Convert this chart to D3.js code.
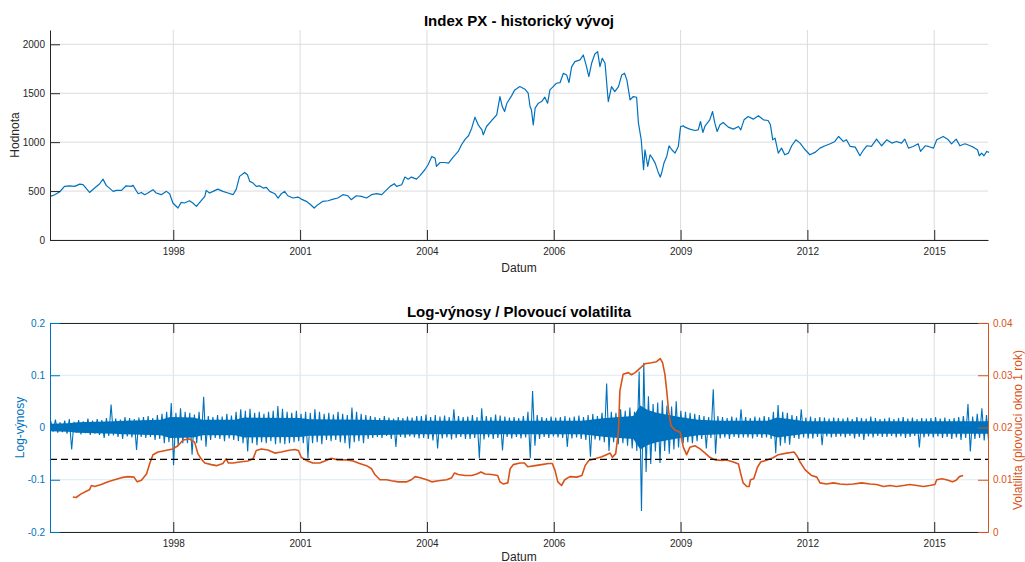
<!DOCTYPE html>
<html>
<head>
<meta charset="utf-8">
<script src="https://cdn.jsdelivr.net/npm/d3@7/dist/d3.min.js"></script>
<style>
  body { margin: 0; background: #fff; }
  svg text { font-family: "Liberation Sans", Arial, Helvetica, sans-serif; }
</style>
</head>
<body>
<script>

// ---- data ----

// x axis: MATLAB datenum ticks every 1000 days, labelled with the year
var xDomain = ["1996-01-04", "2016-04-04"];
var tickDates = ["1998-09-02", "2001-05-29", "2004-02-23", "2006-11-19", "2009-08-15", "2012-05-11", "2015-02-05"];

// Index PX (decimal year, value)
var priceYears = [
  1996.02, 1996.11, 1996.22, 1996.32, 1996.43, 1996.54, 1996.65, 1996.72, 1996.86, 1996.97,
  1997.08, 1997.15, 1997.22, 1997.37, 1997.44, 1997.55, 1997.65, 1997.76, 1997.80, 1997.91, 1997.98,
  1998.05, 1998.12, 1998.23, 1998.30, 1998.41, 1998.52, 1998.59, 1998.66, 1998.77, 1998.84, 1998.91,
  1999.02, 1999.09, 1999.17, 1999.24, 1999.35, 1999.38, 1999.45, 1999.53, 1999.63, 1999.74, 1999.85, 1999.96,
  2000.03, 2000.10, 2000.21, 2000.27, 2000.32, 2000.39, 2000.46, 2000.53, 2000.61, 2000.68, 2000.75, 2000.86, 2000.93,
  2001.00, 2001.07, 2001.14, 2001.25, 2001.36, 2001.43, 2001.54, 2001.61, 2001.71, 2001.79, 2001.90,
  2002.01, 2002.12, 2002.22, 2002.33, 2002.44, 2002.51, 2002.62, 2002.73, 2002.84, 2002.95,
  2003.06, 2003.17, 2003.24, 2003.35, 2003.44, 2003.49, 2003.60, 2003.67, 2003.74, 2003.81, 2003.92, 2003.99,
  2004.10, 2004.17, 2004.25, 2004.32, 2004.35, 2004.43, 2004.53, 2004.61, 2004.71, 2004.82, 2004.89, 2004.97,
  2005.04, 2005.11, 2005.18, 2005.25, 2005.33, 2005.36, 2005.43, 2005.54, 2005.65, 2005.72, 2005.77, 2005.82, 2005.87, 2005.97,
  2006.04, 2006.15, 2006.26, 2006.33, 2006.37, 2006.40, 2006.44, 2006.48, 2006.55, 2006.62, 2006.69, 2006.75, 2006.80, 2006.87, 2006.94,
  2007.02, 2007.09, 2007.16, 2007.21, 2007.27, 2007.34, 2007.45, 2007.52, 2007.59, 2007.64, 2007.70, 2007.77, 2007.83, 2007.88, 2007.93, 2007.99,
  2008.06, 2008.13, 2008.20, 2008.28, 2008.35, 2008.41, 2008.46, 2008.53, 2008.60, 2008.67, 2008.71, 2008.77, 2008.82, 2008.85, 2008.91, 2008.96,
  2009.01, 2009.07, 2009.13, 2009.18, 2009.21, 2009.26, 2009.32, 2009.37, 2009.43, 2009.50, 2009.57, 2009.62, 2009.68, 2009.71, 2009.82, 2009.93,
  2010.00, 2010.05, 2010.10, 2010.15, 2010.25, 2010.31, 2010.36, 2010.41, 2010.47, 2010.54, 2010.65, 2010.76, 2010.87, 2010.92, 2010.99,
  2011.08, 2011.19, 2011.30, 2011.41, 2011.51, 2011.56, 2011.61, 2011.66, 2011.73, 2011.80, 2011.87, 2011.95,
  2012.02, 2012.11, 2012.20, 2012.31, 2012.41, 2012.52, 2012.63, 2012.74, 2012.85, 2012.95,
  2013.03, 2013.13, 2013.20, 2013.28, 2013.39, 2013.49, 2013.57, 2013.64, 2013.74, 2013.85, 2013.96,
  2014.07, 2014.18, 2014.28, 2014.39, 2014.46, 2014.54, 2014.64, 2014.75, 2014.80, 2014.90, 2014.97,
  2015.08, 2015.15, 2015.29, 2015.40, 2015.47, 2015.57, 2015.65, 2015.76, 2015.87, 2015.94,
  2016.03, 2016.07, 2016.12, 2016.17, 2016.23, 2016.28
];
var priceValues = [
  446, 463, 493, 548, 554, 548, 571, 565, 486, 531,
  575, 622, 558, 497, 507, 507, 554, 548, 558, 473, 486,
  463, 480, 514, 480, 463, 497, 473, 378, 327, 384, 378,
  401, 378, 344, 384, 446, 507, 480, 497, 520, 497, 480, 463,
  520, 650, 690, 667, 599, 582, 548, 554, 531, 538, 497, 473, 429,
  473, 497, 452, 429, 439, 418, 395, 371, 327, 361, 395,
  401, 418, 429, 463, 452, 412, 452, 446, 429, 463,
  473, 463, 497, 548, 575, 548, 565, 643, 622, 643, 622, 656,
  718, 769, 854, 837, 752, 792, 792, 786, 847, 905, 973, 1031,
  1065, 1143, 1255, 1177, 1126, 1075, 1160, 1221, 1279, 1466, 1364, 1313, 1398, 1473,
  1534, 1568, 1541, 1500, 1364, 1330, 1177, 1347, 1398, 1415, 1459, 1398, 1534, 1568, 1602,
  1609, 1704, 1687, 1609, 1772, 1823, 1840, 1891, 1772, 1670, 1806, 1901, 1925, 1772, 1857, 1806,
  1415, 1568, 1517, 1568, 1687, 1704, 1636, 1432, 1466, 1459, 1194, 1024, 718, 922, 752, 871,
  837, 786, 701, 643, 684, 786, 854, 963, 922, 888, 956, 1160, 1167, 1153, 1133, 1119,
  1126, 1211, 1099, 1167, 1228, 1313, 1194, 1109, 1177, 1201, 1153, 1133, 1160, 1126, 1228,
  1262, 1235, 1269, 1228, 1221, 1177, 1024, 1041, 888, 939, 871, 888,
  963, 1024, 990, 922, 871, 895, 939, 963, 983, 1007,
  1058, 1007, 1024, 956, 949, 861, 922, 963, 956, 1031, 963,
  1024, 990, 1007, 990, 1031, 939, 956, 983, 905, 963, 956,
  939, 1024, 1058, 1024, 983, 1031, 963, 983, 963, 949,
  922, 861, 888, 861, 905, 895
];

// log returns: highest and lowest value inside each 0.1-year bin
var retStart = 1996.0;
var retStep = 0.1;
var retHi = [
  0.012, 0.015, 0.010, 0.013, 0.016, 0.011, 0.014, 0.012, 0.017, 0.013,
  0.016, 0.014, 0.018, 0.044, 0.017, 0.015, 0.020, 0.018, 0.016, 0.019,
  0.020, 0.022, 0.018, 0.024, 0.026, 0.030, 0.047, 0.028, 0.037, 0.030,
  0.028, 0.025, 0.030, 0.059, 0.022, 0.020, 0.024, 0.021, 0.026, 0.023,
  0.030, 0.035, 0.032, 0.036, 0.028, 0.030, 0.026, 0.030, 0.032, 0.041,
  0.036, 0.030, 0.028, 0.032, 0.026, 0.030, 0.028, 0.035, 0.030, 0.026,
  0.028, 0.025, 0.030, 0.026, 0.024, 0.038, 0.030, 0.026, 0.024, 0.022,
  0.020, 0.018, 0.022, 0.019, 0.017, 0.020, 0.018, 0.021, 0.019, 0.022,
  0.022, 0.025, 0.020, 0.024, 0.021, 0.023, 0.020, 0.035, 0.022, 0.020,
  0.021, 0.024, 0.020, 0.037, 0.022, 0.020, 0.025, 0.023, 0.021, 0.019,
  0.020, 0.018, 0.022, 0.030, 0.070, 0.024, 0.020, 0.018, 0.021, 0.019,
  0.020, 0.022, 0.019, 0.021, 0.023, 0.020, 0.024, 0.026, 0.022, 0.028,
  0.084, 0.030, 0.028, 0.035, 0.032, 0.038, 0.030, 0.107, 0.124, 0.060,
  0.045, 0.048, 0.052, 0.042, 0.040, 0.050, 0.032, 0.030, 0.028, 0.026,
  0.024, 0.022, 0.020, 0.073, 0.022, 0.020, 0.018, 0.021, 0.019, 0.035,
  0.020, 0.018, 0.021, 0.019, 0.022, 0.020, 0.030, 0.043, 0.030, 0.028,
  0.024, 0.022, 0.035, 0.019, 0.021, 0.018, 0.020, 0.019, 0.017, 0.019,
  0.018, 0.017, 0.019, 0.016, 0.020, 0.018, 0.017, 0.021, 0.018, 0.016,
  0.017, 0.019, 0.016, 0.018, 0.020, 0.017, 0.019, 0.016, 0.018, 0.017,
  0.018, 0.020, 0.017, 0.019, 0.016, 0.018, 0.020, 0.022, 0.045, 0.021,
  0.026, 0.037, 0.024
];
var retLo = [
  -0.008, -0.010, -0.009, -0.012, -0.042, -0.010, -0.013, -0.011, -0.014, -0.012,
  -0.014, -0.020, -0.016, -0.015, -0.018, -0.022, -0.017, -0.019, -0.043, -0.018,
  -0.020, -0.018, -0.024, -0.022, -0.030, -0.028, -0.072, -0.035, -0.030, -0.030,
  -0.052, -0.030, -0.025, -0.037, -0.024, -0.020, -0.022, -0.026, -0.021, -0.024,
  -0.026, -0.030, -0.046, -0.030, -0.034, -0.028, -0.030, -0.026, -0.032, -0.030,
  -0.032, -0.030, -0.028, -0.026, -0.030, -0.059, -0.030, -0.028, -0.032, -0.024,
  -0.026, -0.024, -0.028, -0.030, -0.040, -0.028, -0.026, -0.030, -0.022, -0.020,
  -0.018, -0.020, -0.016, -0.022, -0.037, -0.018, -0.020, -0.017, -0.019, -0.021,
  -0.020, -0.022, -0.025, -0.040, -0.021, -0.019, -0.023, -0.020, -0.018, -0.022,
  -0.022, -0.020, -0.059, -0.023, -0.019, -0.022, -0.020, -0.044, -0.018, -0.021,
  -0.018, -0.021, -0.019, -0.059, -0.035, -0.022, -0.018, -0.020, -0.017, -0.019,
  -0.020, -0.037, -0.021, -0.019, -0.022, -0.024, -0.056, -0.023, -0.025, -0.028,
  -0.045, -0.028, -0.032, -0.030, -0.035, -0.040, -0.045, -0.160, -0.085, -0.070,
  -0.046, -0.068, -0.045, -0.050, -0.042, -0.038, -0.030, -0.028, -0.030, -0.026,
  -0.022, -0.040, -0.020, -0.050, -0.021, -0.019, -0.022, -0.018, -0.020, -0.019,
  -0.019, -0.021, -0.018, -0.020, -0.019, -0.022, -0.049, -0.035, -0.030, -0.033,
  -0.020, -0.022, -0.019, -0.021, -0.021, -0.018, -0.034, -0.017, -0.019, -0.018,
  -0.017, -0.019, -0.016, -0.021, -0.018, -0.024, -0.017, -0.019, -0.016, -0.018,
  -0.018, -0.016, -0.019, -0.017, -0.020, -0.018, -0.016, -0.038, -0.019, -0.017,
  -0.019, -0.017, -0.020, -0.018, -0.022, -0.019, -0.024, -0.020, -0.046, -0.022,
  -0.020, -0.025, -0.033
];

// width of the dense (solid looking) part of the returns band, +/- around zero
var coreYears = [
  1996.0, 1996.4, 1996.6, 1997.4, 1997.6, 1998.4, 1998.6, 1999.1, 1999.3, 2000.0,
  2000.2, 2001.4, 2001.6, 2002.8, 2004.0, 2005.0, 2006.4, 2007.5, 2008.0, 2008.6,
  2008.75, 2008.9, 2009.1, 2009.6, 2010.0, 2010.5, 2011.5, 2011.7, 2012.0, 2012.3, 2016.3
];
var coreAmp = [
  0.007, 0.008, 0.010, 0.012, 0.013, 0.015, 0.020, 0.019, 0.015, 0.015,
  0.019, 0.018, 0.016, 0.015, 0.013, 0.013, 0.013, 0.013, 0.018, 0.022,
  0.042, 0.034, 0.028, 0.020, 0.015, 0.013, 0.013, 0.019, 0.016, 0.012, 0.012
];

// rolling volatility, 1 year window (right axis)
var volYears = [
  1996.50, 1996.57, 1996.68, 1996.79, 1996.86, 1996.90, 1996.97, 1997.11, 1997.26, 1997.40, 1997.55, 1997.69, 1997.82, 1997.89, 1997.98,
  1998.09, 1998.16, 1998.23, 1998.34, 1998.45, 1998.55, 1998.66, 1998.77, 1998.88,
  1999.02, 1999.13, 1999.20, 1999.27, 1999.35, 1999.49, 1999.60, 1999.74, 1999.81, 1999.86, 1999.96,
  2000.10, 2000.28, 2000.39, 2000.46, 2000.57, 2000.71, 2000.86,
  2001.00, 2001.14, 2001.29, 2001.37, 2001.43, 2001.54, 2001.68, 2001.83, 2001.94,
  2002.08, 2002.22, 2002.40, 2002.55, 2002.69, 2002.84, 2002.95,
  2003.02, 2003.13, 2003.27, 2003.38, 2003.53, 2003.71, 2003.81, 2003.89,
  2004.00, 2004.14, 2004.25, 2004.39, 2004.57, 2004.68, 2004.74, 2004.82, 2004.97,
  2005.11, 2005.22, 2005.31, 2005.40, 2005.54, 2005.67, 2005.72, 2005.79, 2005.89, 2005.94,
  2006.01, 2006.15, 2006.25, 2006.32, 2006.48, 2006.62, 2006.77, 2006.85, 2006.91, 2006.97,
  2007.05, 2007.12, 2007.23, 2007.38, 2007.49, 2007.56, 2007.64, 2007.77, 2007.92,
  2008.02, 2008.10, 2008.15, 2008.22, 2008.28, 2008.31, 2008.38, 2008.49, 2008.56, 2008.64, 2008.74, 2008.85, 2008.99,
  2009.10, 2009.18, 2009.23, 2009.28, 2009.32, 2009.36, 2009.41, 2009.50, 2009.61, 2009.68, 2009.75, 2009.82, 2009.93,
  2010.04, 2010.15, 2010.25, 2010.36, 2010.51, 2010.61, 2010.76, 2010.87, 2010.92, 2010.97,
  2011.05, 2011.10, 2011.13, 2011.20, 2011.28, 2011.35, 2011.49, 2011.62, 2011.73, 2011.91,
  2012.07, 2012.13, 2012.20, 2012.31, 2012.45, 2012.56, 2012.63, 2012.77, 2012.92,
  2013.06, 2013.20, 2013.35, 2013.53, 2013.71, 2013.85,
  2014.00, 2014.14, 2014.28, 2014.43, 2014.57, 2014.72, 2014.86,
  2015.00, 2015.11, 2015.15, 2015.26, 2015.36, 2015.49, 2015.57, 2015.64, 2015.72
];
var volValues = [
  0.0067, 0.0066, 0.0073, 0.0078, 0.0081, 0.0089, 0.0087, 0.0091, 0.0096, 0.0100, 0.0104, 0.0106, 0.0105, 0.0096, 0.0099,
  0.0111, 0.0131, 0.0148, 0.0153, 0.0155, 0.0157, 0.0159, 0.0165, 0.0176,
  0.0178, 0.0172, 0.0150, 0.0140, 0.0132, 0.0129, 0.0127, 0.0131, 0.0140, 0.0132, 0.0132,
  0.0134, 0.0136, 0.0140, 0.0156, 0.0159, 0.0157, 0.0151,
  0.0153, 0.0156, 0.0158, 0.0156, 0.0143, 0.0137, 0.0132, 0.0132, 0.0136,
  0.0141, 0.0138, 0.0138, 0.0136, 0.0131, 0.0127, 0.0121,
  0.0110, 0.0100, 0.0100, 0.0098, 0.0096, 0.0096, 0.0100, 0.0106,
  0.0104, 0.0100, 0.0096, 0.0098, 0.0100, 0.0104, 0.0113, 0.0110, 0.0108,
  0.0108, 0.0111, 0.0115, 0.0111, 0.0110, 0.0108, 0.0096, 0.0092, 0.0094, 0.0121,
  0.0129, 0.0132, 0.0132, 0.0125, 0.0127, 0.0129, 0.0131, 0.0131, 0.0118, 0.0096,
  0.0089, 0.0100, 0.0106, 0.0105, 0.0108, 0.0127, 0.0137, 0.0140, 0.0144,
  0.0148, 0.0151, 0.0143, 0.0150, 0.0194, 0.0270, 0.0302, 0.0305, 0.0301, 0.0305, 0.0313, 0.0322, 0.0324,
  0.0326, 0.0332, 0.0324, 0.0302, 0.0270, 0.0232, 0.0204, 0.0195, 0.0191, 0.0162, 0.0148, 0.0162, 0.0165,
  0.0159, 0.0151, 0.0143, 0.0138, 0.0137, 0.0138, 0.0134, 0.0130, 0.0111, 0.0094,
  0.0087, 0.0087, 0.0100, 0.0102, 0.0124, 0.0134, 0.0138, 0.0142, 0.0148, 0.0151,
  0.0153, 0.0146, 0.0134, 0.0119, 0.0108, 0.0105, 0.0094, 0.0092, 0.0094,
  0.0092, 0.0091, 0.0092, 0.0094, 0.0092, 0.0091,
  0.0087, 0.0089, 0.0087, 0.0089, 0.0091, 0.0089, 0.0087,
  0.0089, 0.0091, 0.0100, 0.0102, 0.0100, 0.0096, 0.0099, 0.0106, 0.0108
];

// black dashed line (mean volatility, right axis)
var volMean = 0.0139;

var priceTicks = [0, 500, 1000, 1500, 2000];
var retTicks = [-0.2, -0.1, 0, 0.1, 0.2];
var volTicks = [0, 0.01, 0.02, 0.03, 0.04];

// ---- drawing ----

var width = 1025;
var height = 562;
var blue = "#0072bd";
var orange = "#d95319";
var axisCol = "#262626";

const svg = d3.select("body")
    .append("svg")
    .attr("width", width)
    .attr("height", height);

function yearToDate(y) {
    var yr = Math.floor(y);
    var a = Date.UTC(yr, 0, 1), b = Date.UTC(yr + 1, 0, 1);
    return new Date(a + (y - yr) * (b - a));
}

var left = 50, right = 988;
var top1 = 30, bottom1 = 240;
var top2 = 323, bottom2 = 532;

const x = d3.scaleUtc()
    .domain(xDomain.map(function (d) { return new Date(d); }))
    .range([left, right]);
var ticks = tickDates.map(function (d) { return new Date(d); });

const yPrice = d3.scaleLinear().domain([0, 2146]).range([bottom1, top1]);
const yRet = d3.scaleLinear().domain([-0.2, 0.2]).range([bottom2, top2]);
const yVol = d3.scaleLinear().domain([0, 0.04]).range([bottom2, top2]);

function plain(d) { return String(d); }

function styleAxis(g, col) {
    g.select(".domain").attr("stroke", col);
    g.selectAll(".tick line").attr("stroke", col);
    g.selectAll(".tick text")
        .attr("fill", col)
        .attr("font-size", 10)
        .attr("font-family", "Liberation Sans, Arial, sans-serif");
}

// ===== top chart =====
var g1 = svg.append("g");

// grid
g1.selectAll(".vg").data(ticks).enter().append("line")
    .attr("x1", function (d) { return x(d); }).attr("x2", function (d) { return x(d); })
    .attr("y1", top1).attr("y2", bottom1)
    .attr("stroke", "#dcdcdc").attr("stroke-width", 1);
g1.selectAll(".hg").data(priceTicks).enter().append("line")
    .attr("x1", left).attr("x2", right)
    .attr("y1", function (d) { return yPrice(d); }).attr("y2", function (d) { return yPrice(d); })
    .attr("stroke", "#dcdcdc").attr("stroke-width", 1);

const priceLine = d3.line()
    .x(function (d, i) { return x(yearToDate(priceYears[i])); })
    .y(function (d) { return yPrice(d); });

g1.append("path")
    .datum(priceValues)
    .attr("d", priceLine)
    .attr("fill", "none")
    .attr("stroke", blue)
    .attr("stroke-width", 1.2)
    .attr("stroke-linejoin", "round");

var xa1 = g1.append("g")
    .attr("transform", "translate(0," + bottom1 + ")")
    .call(d3.axisBottom(x).tickValues(ticks).tickFormat(d3.utcFormat("%Y"))
        .tickSizeInner(-10).tickSizeOuter(0).tickPadding(8));
styleAxis(xa1, axisCol);

var ya1 = g1.append("g")
    .attr("transform", "translate(" + left + ",0)")
    .call(d3.axisLeft(yPrice).tickValues(priceTicks).tickFormat(plain)
        .tickSizeInner(-10).tickSizeOuter(0).tickPadding(5));
styleAxis(ya1, axisCol);

g1.append("text")
    .attr("x", (left + right) / 2).attr("y", 25.5)
    .attr("text-anchor", "middle")
    .attr("font-size", 15).attr("font-weight", "bold").attr("fill", "#000")
    .text("Index PX - historický vývoj");

g1.append("text")
    .attr("x", (left + right) / 2).attr("y", 271.5)
    .attr("text-anchor", "middle")
    .attr("font-size", 12).attr("fill", axisCol)
    .text("Datum");

g1.append("text")
    .attr("transform", "translate(18.6," + (top1 + bottom1) / 2 + ") rotate(-90)")
    .attr("text-anchor", "middle")
    .attr("font-size", 12).attr("fill", axisCol)
    .text("Hodnota");

// ===== bottom chart =====
var g2 = svg.append("g");

svg.append("clipPath").attr("id", "clip2")
    .append("rect")
    .attr("x", left).attr("y", top2)
    .attr("width", right - left).attr("height", bottom2 - top2);

g2.selectAll(".vg").data(ticks).enter().append("line")
    .attr("x1", function (d) { return x(d); }).attr("x2", function (d) { return x(d); })
    .attr("y1", top2).attr("y2", bottom2)
    .attr("stroke", "#dedede").attr("stroke-width", 1);
g2.selectAll(".hg").data(retTicks).enter().append("line")
    .attr("x1", left).attr("x2", right)
    .attr("y1", function (d) { return yRet(d); }).attr("y2", function (d) { return yRet(d); })
    .attr("stroke", "#d9eaf5").attr("stroke-width", 1);

var plot2 = g2.append("g").attr("clip-path", "url(#clip2)");

// dense core of the returns
const coreArea = d3.area()
    .x(function (d, i) { return x(yearToDate(coreYears[i])); })
    .y0(function (d) { return yRet(-d); })
    .y1(function (d) { return yRet(d); });

plot2.append("path")
    .datum(coreAmp)
    .attr("d", coreArea)
    .attr("fill", blue);

// returns as a zig-zag through each bin's high and low
var retPoints = [];
retHi.forEach(function (h, i) {
    var t = retStart + i * retStep;
    retPoints.push([t + retStep * 0.25, h]);
    retPoints.push([t + retStep * 0.75, retLo[i]]);
});

const retLine = d3.line()
    .x(function (d) { return x(yearToDate(d[0])); })
    .y(function (d) { return yRet(d[1]); });

plot2.append("path")
    .datum(retPoints)
    .attr("d", retLine)
    .attr("fill", "none")
    .attr("stroke", blue)
    .attr("stroke-width", 1.1);

const volLine = d3.line()
    .x(function (d, i) { return x(yearToDate(volYears[i])); })
    .y(function (d) { return yVol(d); });

plot2.append("path")
    .datum(volValues)
    .attr("d", volLine)
    .attr("fill", "none")
    .attr("stroke", orange)
    .attr("stroke-width", 1.6)
    .attr("stroke-linejoin", "round");

plot2.append("line")
    .attr("x1", left).attr("x2", right)
    .attr("y1", yVol(volMean)).attr("y2", yVol(volMean))
    .attr("stroke", "#000").attr("stroke-width", 1.1)
    .attr("stroke-dasharray", "7,4");

var xa2 = g2.append("g")
    .attr("transform", "translate(0," + bottom2 + ")")
    .call(d3.axisBottom(x).tickValues(ticks).tickFormat(d3.utcFormat("%Y"))
        .tickSizeInner(-10).tickSizeOuter(0).tickPadding(8));
styleAxis(xa2, axisCol);

var xt2 = g2.append("g")
    .attr("transform", "translate(0," + top2 + ")")
    .call(d3.axisTop(x).tickValues(ticks).tickFormat("").tickSizeInner(-10).tickSizeOuter(0));
styleAxis(xt2, axisCol);

var ya2 = g2.append("g")
    .attr("transform", "translate(" + left + ",0)")
    .call(d3.axisLeft(yRet).tickValues(retTicks).tickFormat(plain)
        .tickSizeInner(-10).tickSizeOuter(0).tickPadding(5));
styleAxis(ya2, blue);

var yr2 = g2.append("g")
    .attr("transform", "translate(" + right + ",0)")
    .call(d3.axisRight(yVol).tickValues(volTicks).tickFormat(plain)
        .tickSizeInner(-10).tickSizeOuter(0).tickPadding(5));
styleAxis(yr2, orange);

g2.append("text")
    .attr("x", (left + right) / 2).attr("y", 316.5)
    .attr("text-anchor", "middle")
    .attr("font-size", 15).attr("font-weight", "bold").attr("fill", "#000")
    .text("Log-výnosy / Plovoucí volatilita");

g2.append("text")
    .attr("x", (left + right) / 2).attr("y", 560.5)
    .attr("text-anchor", "middle")
    .attr("font-size", 12).attr("fill", axisCol)
    .text("Datum");

g2.append("text")
    .attr("transform", "translate(23.6," + (top2 + bottom2) / 2 + ") rotate(-90)")
    .attr("text-anchor", "middle")
    .attr("font-size", 12).attr("fill", blue)
    .text("Log-výnosy");

g2.append("text")
    .attr("transform", "translate(1021.5,430) rotate(-90)")
    .attr("text-anchor", "middle")
    .attr("font-size", 12).attr("fill", orange)
    .text("Volatilita (plovoucí okno 1 rok)");

</script>
</body>
</html>
